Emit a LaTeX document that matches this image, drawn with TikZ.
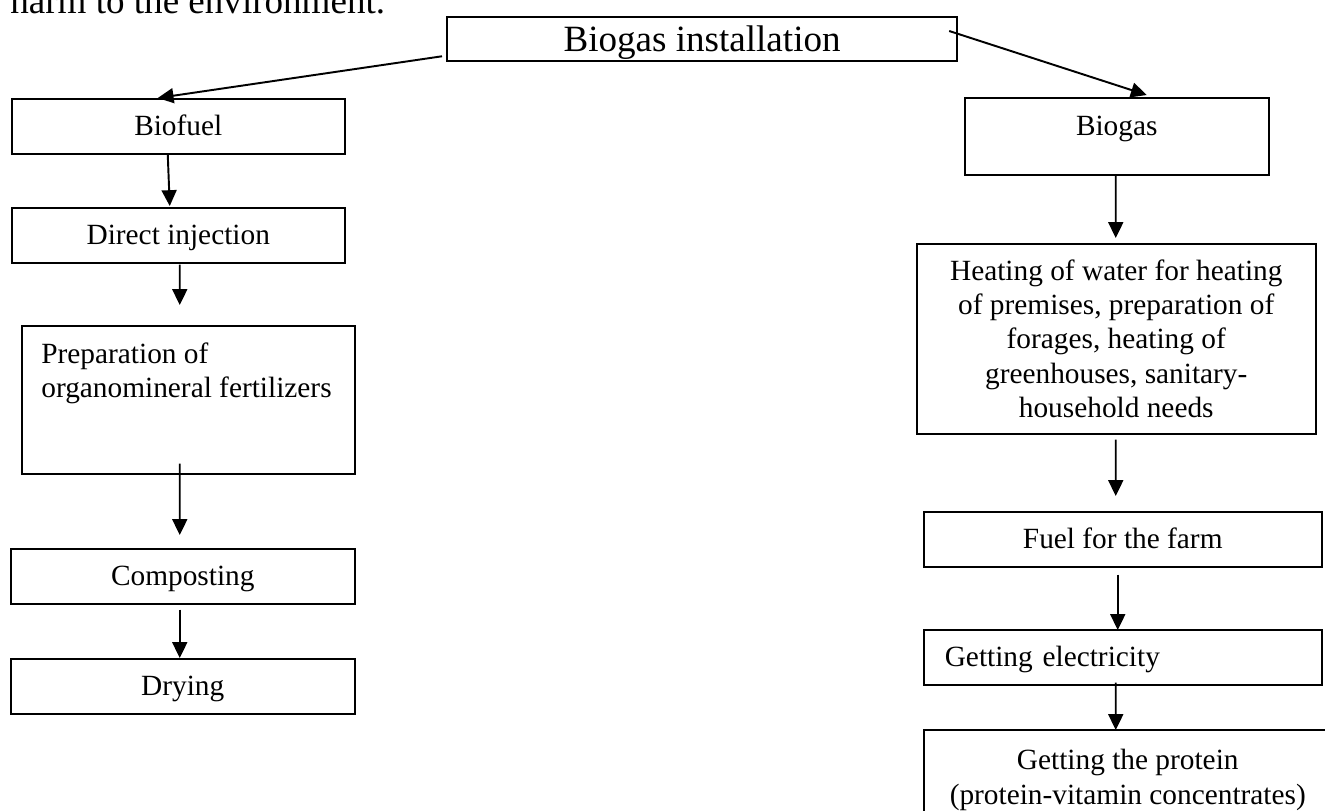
\documentclass[tikz,border=0pt]{standalone}
\usepackage{fontspec}
\setmainfont{Liberation Serif}
\usetikzlibrary{arrows.meta,positioning,calc}
\newcommand{\boxfont}{\fontsize{16.7}{19.6}\selectfont}
\newcommand{\headfont}{\fontsize{21.1}{24.5}\selectfont}

\begin{document}
\begin{tikzpicture}[x=0.02cm, y=-0.02cm,
  stage/.style={draw, line width=0.9pt, anchor=north west, font=\boxfont, align=center, inner sep=0pt},
  oneline/.style={text height=0.36cm, text depth=0pt},
  flow/.style={-{Triangle[length=9pt,width=8.5pt]}, line width=1.1pt}]
  \useasboundingbox (0,0) rectangle (1325,811);
  \node[anchor=base west, font=\headfont, inner sep=0pt] (lead) at (10,14) {harm to the environment.};

  \node[stage, line width=1.3pt, font=\headfont, text height=0.49cm, text depth=0pt, minimum width=10.2cm, minimum height=0.88cm] (inst) at (446,16) {Biogas installation};

  % left branch
  \node[stage, oneline, minimum width=6.66cm, minimum height=1.1cm] (bf) at (11,98) {Biofuel};
  \node[stage, oneline, minimum width=6.66cm, minimum height=1.1cm] (di) at (11,207) {Direct injection};
  \node[stage, minimum width=6.66cm, minimum height=2.96cm] (prep) at (21,325) {};
  \node[anchor=north west, font=\boxfont, align=left, inner sep=0pt] (preptxt) at (41,342) {Preparation of\\organomineral fertilizers};
  \node[stage, oneline, minimum width=6.88cm, minimum height=1.1cm] (comp) at (10,548) {Composting};
  \node[stage, oneline, minimum width=6.88cm, minimum height=1.1cm] (dry) at (10,658) {Drying};

  % right branch
  \node[stage, minimum width=6.08cm, text height=0.76cm, text depth=0.78cm] (bg) at (964,97) {Biogas};
  \node[stage, minimum width=7.98cm, minimum height=3.8cm] (heat) at (916,243) {Heating of water for heating\\of premises, preparation of\\forages, heating of\\greenhouses, sanitary-\\household needs};
  \node[stage, oneline, minimum width=7.96cm, minimum height=1.1cm] (fuel) at (923,511) {Fuel for the farm};
  \node[stage, oneline, minimum width=7.96cm, minimum height=1.1cm, inner xsep=0.42cm, text width=7.12cm, align=left] (elec) at (923,629) {Getting electricity};
  \node[stage, minimum width=8.16cm, minimum height=2cm] (prot) at (923,729) {Getting the protein\\(protein-vitamin concentrates)};

  \draw[flow] ($(inst.south west)+(-4,-6)$) -- ($(bf.north)+(-20.5,0)$);
  \draw[flow] ($(inst.north east)+(-9,15)$) -- ($(bg.north)+(30,-2)$);

  \draw[flow] ($(bf.south)+(-10.5,0)$) -- ($(di.north)+(-8.5,-1)$);
  \draw[flow] ($(di.south)+(1.5,1)$) -- ($(prep.north)+(-8.5,-20)$);
  \draw[flow] ($(prep.south)+(-8.5,-11)$) -- ($(comp.north)+(-3,-13)$);
  \draw[flow] ($(comp.south)+(-3,5)$) -- ($(dry.north)+(-3,0)$);

  \draw[flow] ($(bg.south)+(-1,0)$) -- ($(heat.north)+(-0.5,-5)$);
  \draw[flow] ($(heat.south)+(-0.5,5)$) -- ($(fuel.north)+(-7,-15)$);
  \draw[flow] ($(fuel.south)+(-5,7)$) -- ($(elec.north)+(-5,1)$);
  \draw[flow] ($(elec.south)+(-7,-3)$) -- ($(prot.north)+(-12,1)$);
\end{tikzpicture}
\end{document}
